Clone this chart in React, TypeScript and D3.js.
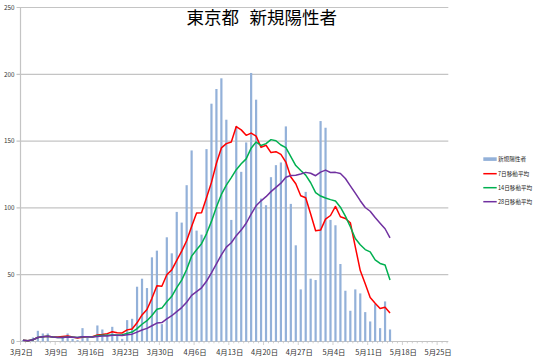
import React from "react";
import * as d3 from "d3";

// Daily new positives, Tokyo, from 2020-03-02 (index 0) to 2020-05-15
const dailyCases = [
  1, 0, 3, 8, 6, 6, 0, 0, 3, 6, 2, 1, 10, 3, 0, 12, 9, 6, 11, 5, 2, 16, 17,
  41, 47, 40, 63, 68, 13, 78, 66, 97, 89, 117, 143, 83, 80, 144, 178, 189, 197,
  166, 91, 161, 127, 149, 201, 181, 107, 102, 123, 132, 134, 161, 103, 72, 39,
  112, 47, 46, 165, 160, 91, 87, 58, 38, 23, 39, 36, 22, 15, 28, 10, 30, 9,
];

const avg7 = [
  1, 0.5, 1.3, 3, 3.6, 4, 3.4, 3.3, 3.7, 4.1, 3.3, 2.6, 3.1, 3.6, 3.6, 4.9,
  5.3, 5.9, 7.3, 6.6, 6.4, 8.7, 9.4, 14, 19.9, 24, 32.3, 41.7, 41.3, 50, 53.6,
  60.7, 67.7, 75.4, 86.1, 96.1, 96.4, 107.6, 119.1, 133.4, 144.9, 148.1, 149.3,
  160.9, 158.4, 154.3, 156, 153.7, 145.3, 146.9, 141.4, 142.1, 140, 134.3,
  123.1, 118.1, 109.1, 107.6, 95.4, 82.9, 83.4, 91.6, 94.3, 101.1, 93.4, 92.1,
  88.9, 70.9, 53.1, 43.3, 33, 28.7, 24.7, 25.7, 21.4,
];

const avg14 = [
  1, 0.5, 1.3, 3, 3.6, 4, 3.4, 3, 3, 3.3, 3.2, 3, 3.5, 3.5, 3.4, 4.3, 4.7, 4.6,
  4.9, 4.9, 5, 6.1, 7.1, 9.6, 12.9, 15.6, 19.4, 24.1, 25, 29.7, 33.8, 40.3,
  45.9, 53.9, 63.9, 68.7, 73.2, 80.6, 89.9, 100.6, 110.1, 117.1, 122.7, 128.6,
  133, 136.7, 144.7, 149.3, 146.7, 148.1, 151.1, 150.3, 147.1, 145.1, 138.4,
  131.7, 128, 124.5, 118.8, 111.4, 108.9, 107.4, 106.2, 105.1, 100.5, 93.8,
  85.9, 77.1, 72.4, 68.8, 67.1, 61.1, 58.4, 57.3, 46.1,
];

const avg28 = [
  1, 0.5, 1.3, 3, 3.6, 4, 3.4, 3, 3, 3.3, 3.2, 3, 3.5, 3.5, 3.3, 3.8, 4.1, 4.2,
  4.6, 4.6, 4.5, 5, 5.5, 7, 8.6, 9.8, 11.8, 13.8, 14.2, 17, 19.3, 22.4, 25.4,
  29.4, 34.5, 37.4, 40.2, 45.1, 51.4, 58.1, 64.8, 70.6, 73.9, 79.2, 83.4, 88.5,
  95.3, 101.6, 105.3, 108.4, 112.2, 115.4, 118.5, 122.9, 124.3, 124.4, 125.4,
  126.6, 125.9, 124.1, 126.8, 128.3, 126.5, 126.6, 125.8, 122, 116.5, 111.1,
  105.4, 100.3, 97.5, 92.8, 88.6, 84.4, 77.5,
];

const xTickLabels = [
  "3月2日", "3月9日", "3月16日", "3月23日", "3月30日", "4月6日", "4月13日",
  "4月20日", "4月27日", "5月4日", "5月11日", "5月18日", "5月25日",
];
const yTicks = [0, 50, 100, 150, 200, 250];

const seriesNames = ["新規陽性者", "7日移動平均", "14日移動平均", "28日移動平均"];
const lineColors = ["#ff0000", "#00b050", "#7030a0"];
const barColor = "#93b1d9";
const gridColor = "#c4c4c4";
const font = "'Noto Sans CJK JP', 'Noto Sans', sans-serif";

export default function App() {
  const width = 550;
  const height = 361;
  const x = d3.scaleLinear().domain([0, 86.25]).range([20.5, 448.3]);
  const y = d3.scaleLinear().domain([0, 250]).range([341.5, 7.5]);

  const lineGen = d3
    .line<number>()
    .x((_, i) => x(i + 0.5))
    .y((v) => y(v));

  const lines = [avg7, avg14, avg28];
  const totalDays = 86;
  const minorTicks = d3.range(0, totalDays + 1);

  return (
    <svg
      width={width}
      height={height}
      style={{ position: "absolute", left: 0, top: 0, background: "#fff" }}
      fontFamily={font}
    >
      {/* title */}
      <text x={186.5} y={23.5} fontSize={17.5} fill="#000" textAnchor="start">
        東京都
      </text>
      <text x={337} y={23.5} fontSize={17.5} fill="#000" textAnchor="end">
        新規陽性者
      </text>

      {/* gridlines + y labels */}
      {yTicks.map((t) => (
        <g key={t}>
          <line
            x1={16.5}
            x2={x.range()[1]}
            y1={y(t)}
            y2={y(t)}
            stroke={gridColor}
            strokeWidth={1.2}
          />
          <text
            x={14.5}
            y={y(t) + 2.2}
            fontSize={6.3}
            textAnchor="end"
            fill="#333"
          >
            {t}
          </text>
        </g>
      ))}
      {/* y axis */}
      <line x1={20.5} x2={20.5} y1={y(250)} y2={y(0)} stroke={gridColor} strokeWidth={1.2} />

      {/* x axis ticks */}
      {minorTicks.map((d) => (
        <line
          key={d}
          x1={x(d)}
          x2={x(d)}
          y1={y(0)}
          y2={y(0) + (d % 7 === 0 ? 3.5 : 1.8)}
          stroke={gridColor}
          strokeWidth={0.8}
        />
      ))}
      {xTickLabels.map((lab, k) => (
        <text
          key={lab}
          x={x(k * 7) + 1}
          y={355}
          fontSize={7.4}
          textAnchor="middle"
          fill="#333"
        >
          {lab}
        </text>
      ))}

      {/* bars */}
      {dailyCases.map((v, i) => (
        <rect
          key={i}
          x={x(i + 0.5) - 1.1}
          width={2.2}
          y={y(v)}
          height={y(0) - y(v)}
          fill={barColor}
        />
      ))}

      {/* moving averages */}
      {lines.map((arr, k) => (
        <path
          key={k}
          d={lineGen(arr) || ""}
          fill="none"
          stroke={lineColors[k]}
          strokeWidth={1.5}
          strokeLinejoin="round"
        />
      ))}

      {/* legend */}
      <g>
        <rect x={483.3} y={157.3} width={13.4} height={3.6} fill={barColor} />
        <text x={498} y={161.2} fontSize={5.6} fill="#222">
          {seriesNames[0]}
        </text>
        {lineColors.map((c, k) => {
          const ly = 173.7 + k * 14;
          return (
            <g key={c}>
              <line x1={483.3} x2={496.7} y1={ly} y2={ly} stroke={c} strokeWidth={1.5} />
              <text x={498} y={ly + 2} fontSize={5.6} fill="#222">
                {seriesNames[k + 1]}
              </text>
            </g>
          );
        })}
      </g>
    </svg>
  );
}
